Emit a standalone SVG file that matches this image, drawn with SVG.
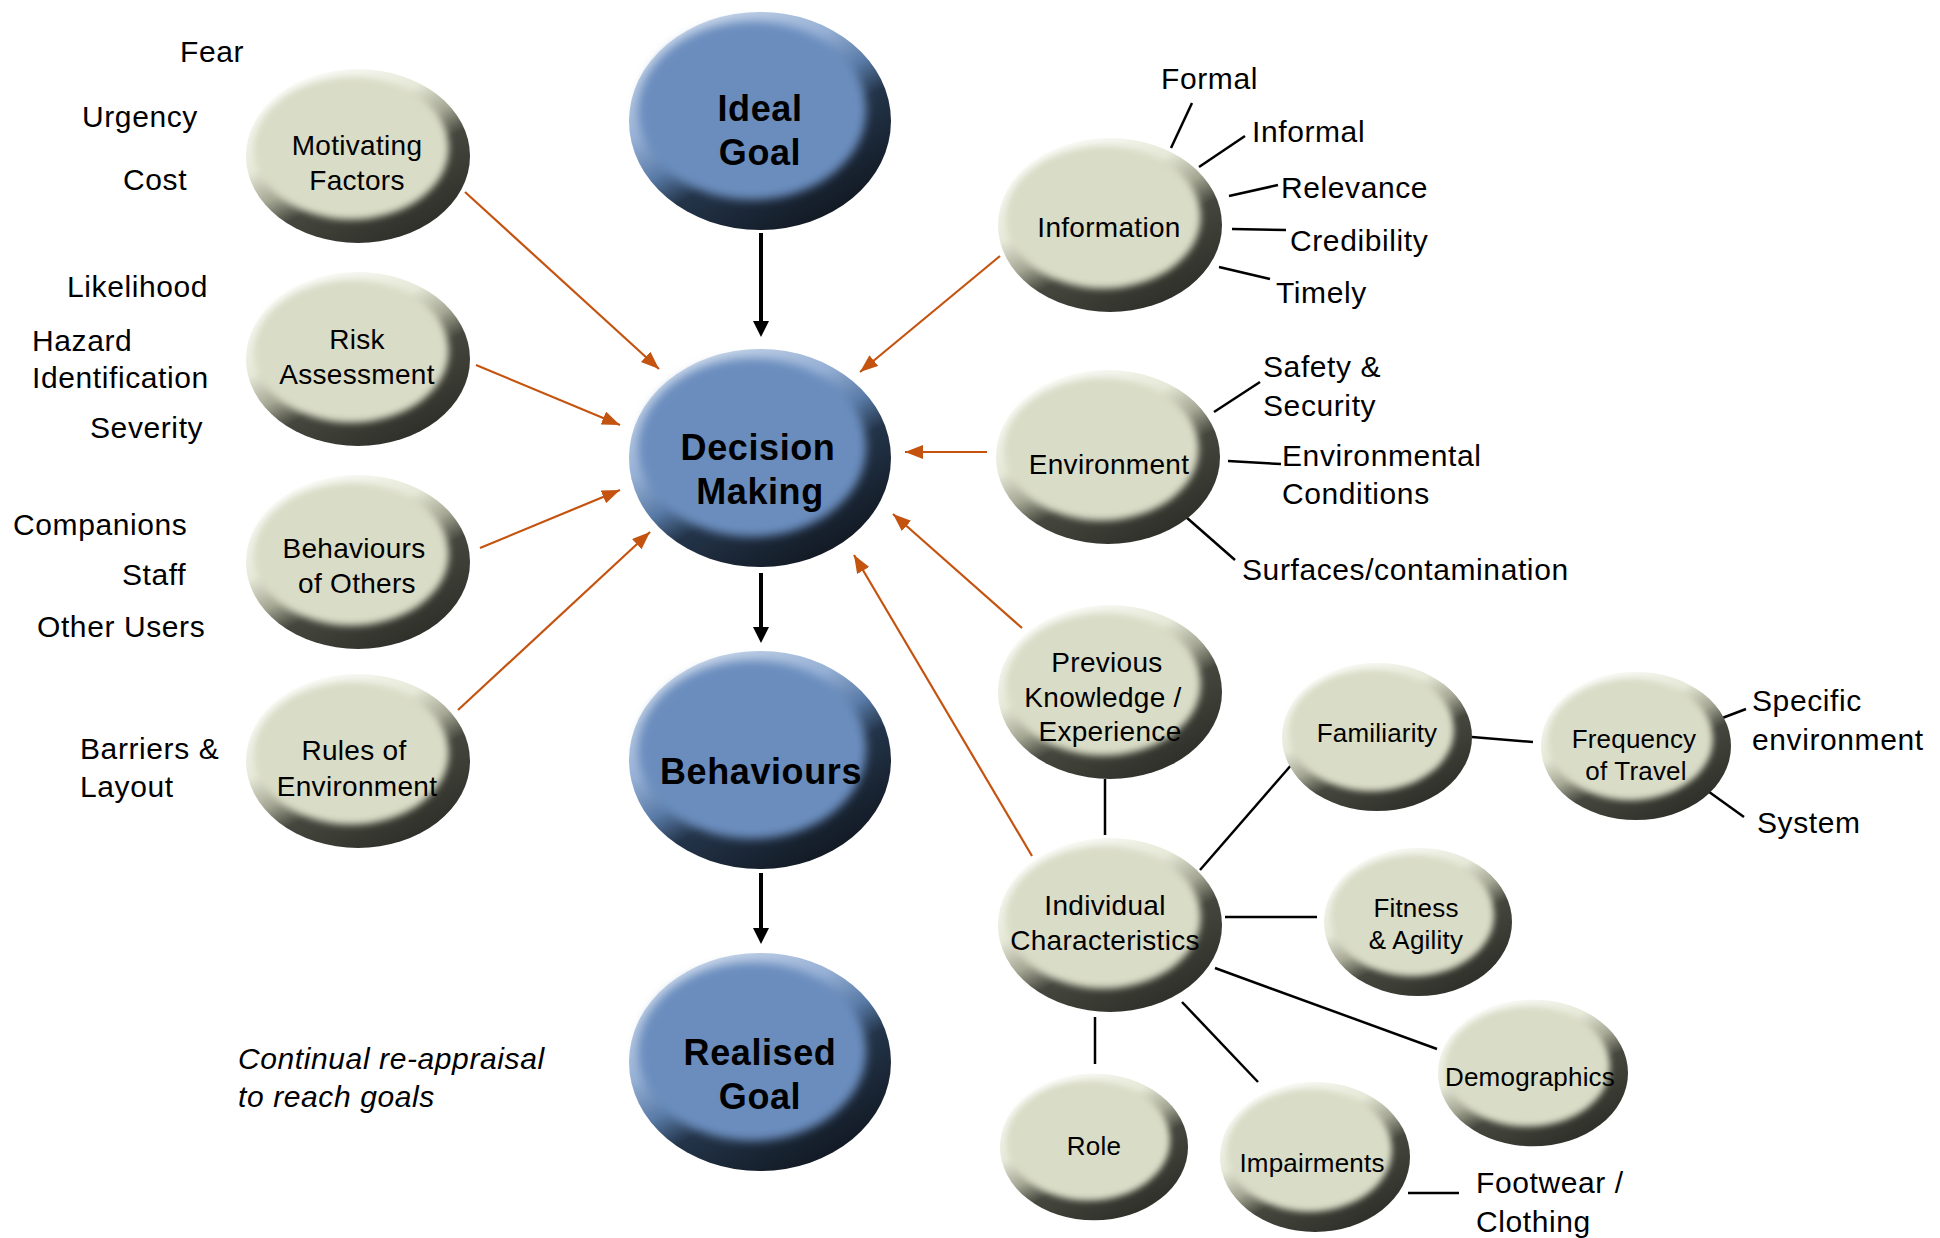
<svg xmlns="http://www.w3.org/2000/svg" width="1940" height="1238" viewBox="0 0 1940 1238">
<style>
text{font-family:"Liberation Sans",Arial,Helvetica,sans-serif;fill:#000}
.lbl{font-size:30px;letter-spacing:0.6px}
.nt{font-size:28px;text-anchor:middle;letter-spacing:0.3px}
.ns{font-size:26px;text-anchor:middle;letter-spacing:0.2px}
.bt{font-size:36px;font-weight:bold;text-anchor:middle;letter-spacing:0.6px}
.it{font-size:30px;font-style:italic;letter-spacing:0.6px}
.blk{stroke:#000;stroke-width:2.5;fill:none}
.org{stroke:#C4530F;stroke-width:2.2;fill:none;marker-end:url(#ao)}
.flow{stroke:#000;stroke-width:4;fill:none;marker-end:url(#ab)}
</style>
<defs>
<filter id="blur" x="-20%" y="-20%" width="140%" height="140%"><feGaussianBlur stdDeviation="3.5"/></filter>
<linearGradient id="gBeige" x1="0.15" y1="0.05" x2="0.78" y2="0.98">
<stop offset="0" stop-color="#ffffff"/>
<stop offset="0.34" stop-color="#e6e8d7"/>
<stop offset="0.5" stop-color="#a4a693"/>
<stop offset="0.63" stop-color="#45463d"/>
<stop offset="1" stop-color="#2c2d27"/>
</linearGradient>
<linearGradient id="gBlue" x1="0.15" y1="0.05" x2="0.78" y2="0.98">
<stop offset="0" stop-color="#d0dcec"/>
<stop offset="0.33" stop-color="#96b0d5"/>
<stop offset="0.5" stop-color="#587aa6"/>
<stop offset="0.63" stop-color="#233449"/>
<stop offset="1" stop-color="#10161f"/>
</linearGradient>
<g id="beige">
<ellipse rx="100" ry="78" fill="url(#gBeige)"/>
<ellipse cx="-6" cy="-7" rx="87" ry="64" fill="#d9dcc6" filter="url(#blur)"/>
</g>
<g id="blue">
<ellipse rx="100" ry="83" fill="url(#gBlue)"/>
<ellipse cx="-6" cy="-8" rx="87" ry="68" fill="#6a8dbe" filter="url(#blur)"/>
</g>
<marker id="ao" markerUnits="userSpaceOnUse" markerWidth="20" markerHeight="16" refX="18" refY="7" orient="auto">
<path d="M0,0 L18,7 L0,14 z" fill="#C4530F"/>
</marker>
<marker id="ab" markerUnits="userSpaceOnUse" markerWidth="18" markerHeight="18" refX="8" refY="8" orient="auto">
<path d="M0,0 L16,8 L0,16 z" fill="#000"/>
</marker>
</defs>
<rect width="1940" height="1238" fill="#fff"/>

<g id="connectors">
<line class="flow" x1="761" y1="233" x2="761" y2="329"/>
<line class="flow" x1="761" y1="573" x2="761" y2="635"/>
<line class="flow" x1="761" y1="873" x2="761" y2="936"/>
<line class="org" x1="465" y1="192" x2="659" y2="369"/>
<line class="org" x1="476" y1="365" x2="620" y2="425"/>
<line class="org" x1="480" y1="548" x2="620" y2="490"/>
<line class="org" x1="458" y1="710" x2="650" y2="532"/>
<line class="org" x1="1000" y1="256" x2="860" y2="372"/>
<line class="org" x1="987" y1="452" x2="905" y2="452"/>
<line class="org" x1="1022" y1="628" x2="893" y2="514"/>
<line class="org" x1="1032" y1="856" x2="854" y2="555"/>
<line class="blk" x1="1192" y1="103" x2="1171" y2="148"/>
<line class="blk" x1="1245" y1="136" x2="1199" y2="167"/>
<line class="blk" x1="1278" y1="185" x2="1229" y2="196"/>
<line class="blk" x1="1232" y1="229" x2="1286" y2="230"/>
<line class="blk" x1="1219" y1="267" x2="1270" y2="279"/>
<line class="blk" x1="1260" y1="382" x2="1214" y2="412"/>
<line class="blk" x1="1228" y1="461" x2="1281" y2="464"/>
<line class="blk" x1="1186" y1="517" x2="1235" y2="560"/>
<line class="blk" x1="1105" y1="779" x2="1105" y2="835"/>
<line class="blk" x1="1200" y1="870" x2="1293" y2="763"/>
<line class="blk" x1="1225" y1="917" x2="1317" y2="917"/>
<line class="blk" x1="1215" y1="968" x2="1437" y2="1049"/>
<line class="blk" x1="1182" y1="1002" x2="1258" y2="1082"/>
<line class="blk" x1="1095" y1="1017" x2="1095" y2="1064"/>
<line class="blk" x1="1472" y1="737" x2="1533" y2="742"/>
<line class="blk" x1="1717" y1="720" x2="1746" y2="709"/>
<line class="blk" x1="1705" y1="789" x2="1744" y2="817"/>
<line class="blk" x1="1408" y1="1193" x2="1459" y2="1193"/>
</g>

<g id="ideal-goal">
<use href="#blue" transform="translate(760,121) scale(1.31,1.313)"/>
<text class="bt" x="760" y="121">Ideal</text>
<text class="bt" x="760" y="165">Goal</text>
</g>
<g id="decision-making">
<use href="#blue" transform="translate(760,458) scale(1.31,1.313)"/>
<text class="bt" x="758" y="460">Decision</text>
<text class="bt" x="760" y="504">Making</text>
</g>
<g id="behaviours">
<use href="#blue" transform="translate(760,760) scale(1.31,1.313)"/>
<text class="bt" x="761" y="784">Behaviours</text>
</g>
<g id="realised-goal">
<use href="#blue" transform="translate(760,1062) scale(1.31,1.313)"/>
<text class="bt" x="760" y="1065">Realised</text>
<text class="bt" x="760" y="1109">Goal</text>
</g>

<g id="motivating-factors">
<use href="#beige" transform="translate(358,156) scale(1.12,1.115)"/>
<text class="nt" x="357" y="155">Motivating</text>
<text class="nt" x="357" y="190">Factors</text>
</g>
<g id="risk-assessment">
<use href="#beige" transform="translate(358,359) scale(1.12,1.115)"/>
<text class="nt" x="357" y="349">Risk</text>
<text class="nt" x="357" y="384">Assessment</text>
</g>
<g id="behaviours-of-others">
<use href="#beige" transform="translate(358,562) scale(1.12,1.115)"/>
<text class="nt" x="354" y="558">Behaviours</text>
<text class="nt" x="357" y="593">of Others</text>
</g>
<g id="rules-of-environment">
<use href="#beige" transform="translate(358,761) scale(1.12,1.115)"/>
<text class="nt" x="354" y="760">Rules of</text>
<text class="nt" x="357" y="796">Environment</text>
</g>
<g id="information">
<use href="#beige" transform="translate(1110,225) scale(1.12,1.115)"/>
<text class="nt" x="1109" y="237">Information</text>
</g>
<g id="environment">
<use href="#beige" transform="translate(1108,457) scale(1.12,1.115)"/>
<text class="nt" x="1109" y="474">Environment</text>
</g>
<g id="previous-knowledge">
<use href="#beige" transform="translate(1110,692) scale(1.12,1.115)"/>
<text class="nt" x="1107" y="672">Previous</text>
<text class="nt" x="1103" y="707">Knowledge /</text>
<text class="nt" x="1110" y="741">Experience</text>
</g>
<g id="individual-characteristics">
<use href="#beige" transform="translate(1110,925) scale(1.12,1.115)"/>
<text class="nt" x="1105" y="915">Individual</text>
<text class="nt" x="1105" y="950">Characteristics</text>
</g>
<g id="familiarity">
<use href="#beige" transform="translate(1377,737) scale(0.95,0.95)"/>
<text class="ns" x="1377" y="742">Familiarity</text>
</g>
<g id="frequency-of-travel">
<use href="#beige" transform="translate(1636,746) scale(0.95,0.95)"/>
<text class="ns" x="1634" y="748">Frequency</text>
<text class="ns" x="1636" y="780">of Travel</text>
</g>
<g id="fitness-agility">
<use href="#beige" transform="translate(1418,922) scale(0.94,0.95)"/>
<text class="ns" x="1416" y="917">Fitness</text>
<text class="ns" x="1416" y="949">&amp; Agility</text>
</g>
<g id="demographics">
<use href="#beige" transform="translate(1533,1073) scale(0.95,0.94)"/>
<text class="ns" x="1530" y="1086">Demographics</text>
</g>
<g id="role">
<use href="#beige" transform="translate(1094,1147) scale(0.94,0.94)"/>
<text class="ns" x="1094" y="1155">Role</text>
</g>
<g id="impairments">
<use href="#beige" transform="translate(1315,1157) scale(0.95,0.96)"/>
<text class="ns" x="1312" y="1172">Impairments</text>
</g>

<g id="labels">
<text class="lbl" x="180" y="62">Fear</text>
<text class="lbl" x="82" y="127">Urgency</text>
<text class="lbl" x="123" y="190">Cost</text>
<text class="lbl" x="67" y="297">Likelihood</text>
<text class="lbl" x="32" y="351">Hazard</text>
<text class="lbl" x="32" y="388">Identification</text>
<text class="lbl" x="90" y="438">Severity</text>
<text class="lbl" x="13" y="535">Companions</text>
<text class="lbl" x="122" y="585">Staff</text>
<text class="lbl" x="37" y="637">Other Users</text>
<text class="lbl" x="80" y="759">Barriers &amp;</text>
<text class="lbl" x="80" y="797">Layout</text>
<text class="lbl" x="1161" y="89">Formal</text>
<text class="lbl" x="1252" y="142">Informal</text>
<text class="lbl" x="1281" y="198">Relevance</text>
<text class="lbl" x="1290" y="251">Credibility</text>
<text class="lbl" x="1276" y="303">Timely</text>
<text class="lbl" x="1263" y="377">Safety &amp;</text>
<text class="lbl" x="1263" y="416">Security</text>
<text class="lbl" x="1282" y="466">Environmental</text>
<text class="lbl" x="1282" y="504">Conditions</text>
<text class="lbl" x="1242" y="580">Surfaces/contamination</text>
<text class="lbl" x="1752" y="711">Specific</text>
<text class="lbl" x="1752" y="750">environment</text>
<text class="lbl" x="1757" y="833">System</text>
<text class="lbl" x="1476" y="1193">Footwear /</text>
<text class="lbl" x="1476" y="1232">Clothing</text>
<text class="it" x="238" y="1069">Continual re-appraisal</text>
<text class="it" x="238" y="1107">to reach goals</text>
</g>
</svg>
